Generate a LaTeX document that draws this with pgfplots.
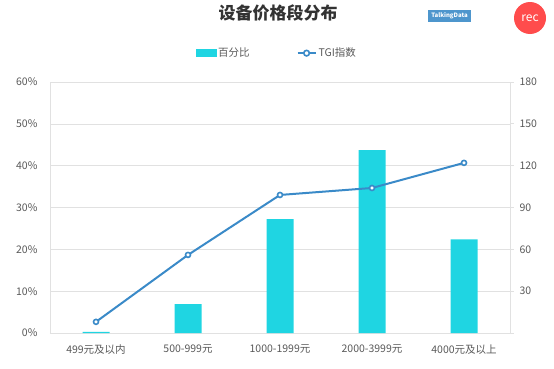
\documentclass[border=0pt]{standalone}
\usepackage{pgfplots}
\pgfplotsset{compat=1.18}
\usepackage{fontspec}
\setmainfont{Noto Sans CJK SC}
\definecolor{barc}{RGB}{31,213,226}
\definecolor{linec}{RGB}{58,138,200}
\definecolor{tickc}{RGB}{89,89,89}
\definecolor{gridc}{RGB}{225,225,225}
\begin{document}
\begin{tikzpicture}[x=1pt,y=1pt]
\path[use as bounding box] (-50,-35) rectangle (504,333);
\begin{axis}[
  at={(0,0)}, anchor=south west,
  scale only axis, width=460pt, height=251pt,
  xmin=-0.5, xmax=4.5, ymin=0, ymax=60,
  xtick={0,1,2,3,4},
  xticklabels={499元及以内,500-999元,1000-1999元,2000-3999元,4000元及以上},
  ytick={0,10,20,30,40,50,60},
  yticklabel={\pgfmathprintnumber{\tick}\%},
  /pgf/number format/assume math mode=true,
  ymajorgrids, grid style={gridc, line width=0.6pt},
  axis line style={gridc, line width=0.8pt},
  axis x line*=bottom, axis y line*=left,
  major tick length=0pt,
  tick label style={font=\fontsize{10.5}{12}\selectfont, text=tickc},
  yticklabel style={xshift=-9pt},
  xticklabel style={yshift=-8pt},
]
\addplot[ybar, bar width=27pt, fill=barc, draw=none] coordinates {
 (0,0.3) (1,6.9) (2,27.2) (3,43.7) (4,22.4)};
\end{axis}
\begin{axis}[
  at={(0,0)}, anchor=south west,
  scale only axis, width=460pt, height=251pt,
  xmin=-0.5, xmax=4.5, ymin=0, ymax=180,
  ytick={0,30,60,90,120,150,180},
  yticklabels={,30,60,90,120,150,180},
  /pgf/number format/assume math mode=true,
  axis x line=none, axis y line*=right,
  axis line style={gridc, line width=0.8pt},
  tick style={gridc, line width=0.8pt},
  major tick length=4pt, tick align=outside,
  tick label style={font=\fontsize{10.5}{12}\selectfont, text=tickc},
  yticklabel style={xshift=2pt},
  legend columns=2,
  legend style={draw=none, fill=none, at={(0.493,1.115)}, anchor=center,
    font=\fontsize{10.5}{12}\selectfont, text=tickc,
    /tikz/every even column/.append style={column sep=45pt}},
  legend image code/.code={},
]
\addlegendimage{legend image code/.code={\fill[barc] (0pt,-3.5pt) rectangle (20pt,3.5pt);}}
\addlegendentry{百分比}
\addplot[linec, line width=2pt, mark=*, mark options={fill=white, draw=linec, line width=1.6pt, scale=1.25},
  legend image code/.code={\draw[linec, line width=2pt] (0pt,0pt) -- (18pt,0pt); \draw[linec, fill=white, line width=1.6pt] (9pt,0pt) circle (2.8pt);}]
 coordinates {(0,8) (1,56) (2,99) (3,104) (4,122)};
\addlegendentry{TGI指数}
\end{axis}
% title
\node[font=\fontsize{17}{20}\selectfont\bfseries, text=black!80] at (228,320) {设备价格段分布};
% logos
\node[fill=linec!90, text=white, font=\fontsize{6}{7}\selectfont\bfseries, inner sep=0pt, minimum width=43pt, minimum height=12pt] at (399.5,317) {TalkingData};
\fill[red!70] (480,315) circle (16pt);
\node[text=white, font=\fontsize{12}{14}\selectfont] at (480,315) {rec};
\end{tikzpicture}
\end{document}
